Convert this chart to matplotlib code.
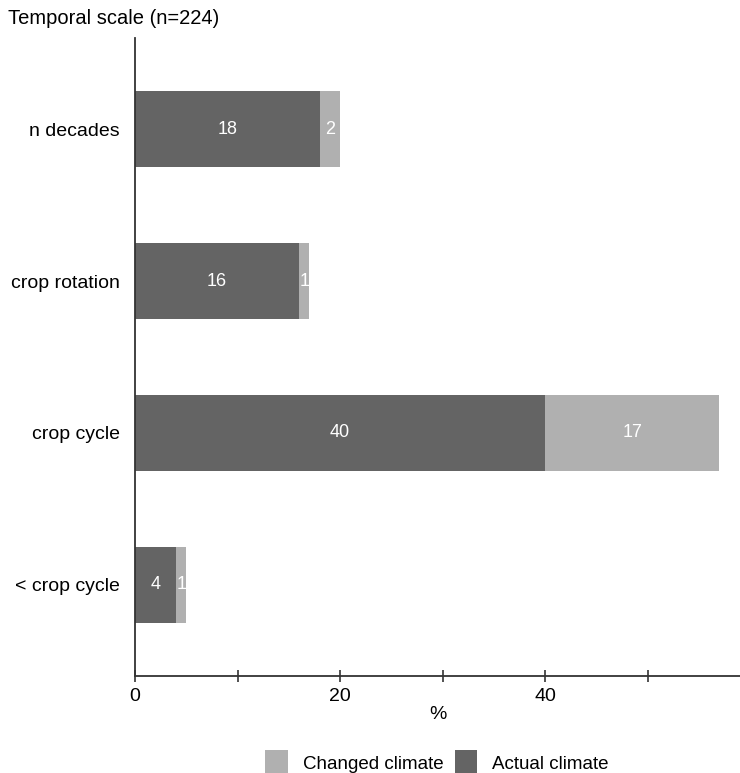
import matplotlib.pyplot as plt

plt.rcParams['font.family'] = ['Liberation Sans', 'DejaVu Sans']

categories = ["n decades", "crop rotation", "crop cycle", "< crop cycle"]
actual = [18, 16, 40, 4]
changed = [2, 1, 17, 1]

dark = "#646464"
light = "#b0b0b0"

fig = plt.figure(figsize=(7.4, 7.73), dpi=100)
ax = fig.add_axes([135 / 740, 1 - 676 / 773, 1 - 135 / 740, (676 - 38) / 773])

ypos = list(range(len(categories)))
b1 = ax.barh(ypos, actual, height=0.5, color=dark, label="Actual climate")
b2 = ax.barh(ypos, changed, left=actual, height=0.5, color=light, label="Changed climate")

for i in ypos:
    ax.text(actual[i] / 2, i, str(actual[i]), color="white", ha="center", va="center", fontsize=13)
    ax.text(actual[i] + changed[i] / 2, i, str(changed[i]), color="white", ha="center", va="center", fontsize=13)

ax.set_ylim(3.6, -0.6)
ax.set_xlim(0, 59)
ax.set_yticks(ypos)
ax.set_yticklabels(categories, fontsize=14)
ax.tick_params(axis="y", length=0, pad=11)

ax.set_xticks([0, 10, 20, 30, 40, 50])
ax.set_xticklabels(["0", "", "20", "", "40", ""], fontsize=14)
ax.tick_params(axis="x", direction="inout", length=9, width=1.2, color="#333333", pad=4)
ax.set_xlabel("%", fontsize=14, labelpad=1)

for s in ["top", "right"]:
    ax.spines[s].set_visible(False)
for s in ["left", "bottom"]:
    ax.spines[s].set_color("#333333")
    ax.spines[s].set_linewidth(1.3)

fig.text(8 / 740, 1 - 18 / 773, "Temporal scale (n=224)", fontsize=14.5, va="center", ha="left")

fig.legend(handles=[b2, b1], loc="center", bbox_to_anchor=(437 / 740, 1 - 763 / 773),
           ncol=2, frameon=False, fontsize=13.5, handlelength=1.2, handleheight=1.7,
           columnspacing=0.6, handletextpad=0.8, borderpad=0.2)

fig.savefig("out.png", dpi=100)
